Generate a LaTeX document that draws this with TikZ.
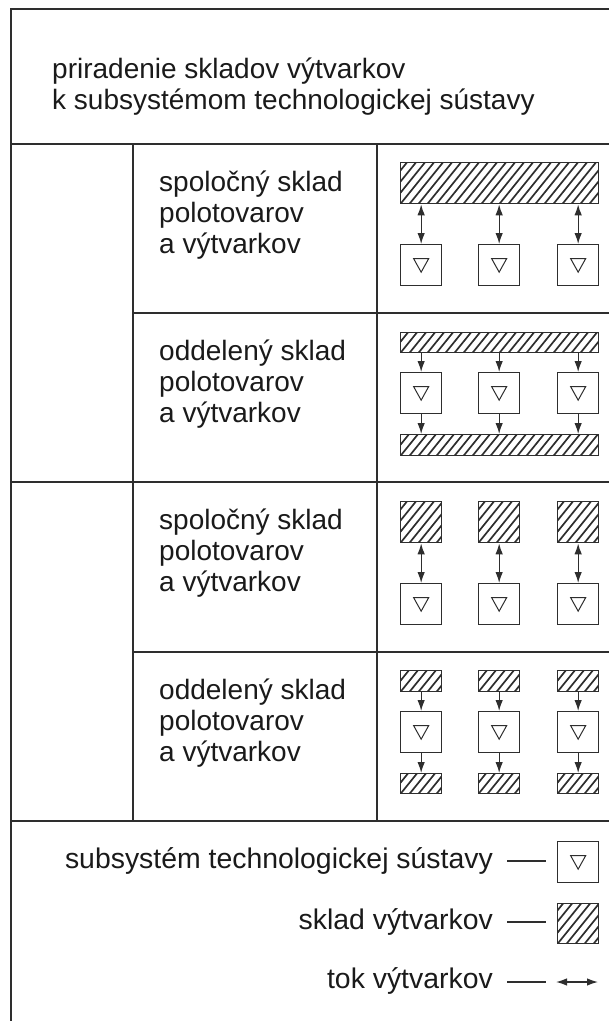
\documentclass[tikz,border=0pt]{standalone}
\usepackage{fontspec}
\setmainfont{Liberation Sans}
\usetikzlibrary{arrows.meta}
\definecolor{ln}{HTML}{2E2E2E}
\definecolor{tx}{HTML}{1A1A1A}
\begin{document}
\begin{tikzpicture}[x=1pt,y=-1pt,
  frame/.style={draw=ln, line width=1.6pt},
  unit/.style={draw=ln, line width=1.3pt, minimum width=41pt, minimum height=41pt, inner sep=0pt, anchor=north west,
    path picture={\draw[line width=1pt, draw=ln] ([shift={(-7.5pt,6.5pt)}]path picture bounding box.center) -- ++(15pt,0pt) -- ++(-7.5pt,-13.5pt) -- cycle;}},
  store/.style={draw=ln, line width=1.3pt, inner sep=0pt, anchor=north west, minimum width=41pt,
    path picture={\foreach \k in {-8,...,26}{\draw[line width=1.7pt, draw=ln] ([xshift=\k*9pt]path picture bounding box.south west) -- ++(42pt,52pt);}}},
  flow/.style={draw=ln, line width=1.3pt, -{Latex[length=11pt,width=7.5pt]}},
  flows/.style={draw=ln, line width=1.3pt, {Latex[length=11pt,width=7.5pt]}-{Latex[length=11pt,width=7.5pt]}},
  txt/.style={font=\fontsize{28}{31}\selectfont, text=tx, inner sep=0pt, align=left, anchor=north west},
  ltxt/.style={font=\fontsize{28.4}{31}\selectfont, text=tx, inner sep=0pt, anchor=base east},
  dash line/.style={draw=ln, line width=1.3pt}]
\useasboundingbox (0,0) rectangle (609,1021);
% table
\draw[frame] (609,9) -- (11,9) -- (11,1021);
\draw[frame] (11,144) -- (609,144);
\draw[frame] (133,313) -- (609,313);
\draw[frame] (11,482) -- (609,482);
\draw[frame] (133,652) -- (609,652);
\draw[frame] (11,821) -- (609,821);
\draw[frame] (133,144) -- (133,821);
\draw[frame] (377,144) -- (377,821);
% header
\node[txt] (head) at (52,54) {\rule{0pt}{24pt}priradenie skladov výtvarkov\\k subsystémom technologickej sústavy};
% row texts
\node[txt] (t1) at (159,167) {\rule{0pt}{24pt}spoločný sklad\\polotovarov\\a výtvarkov};
\node[txt] (t2) at (159,336) {\rule{0pt}{24pt}oddelený sklad\\polotovarov\\a výtvarkov};
\node[txt] (t3) at (159,505) {\rule{0pt}{24pt}spoločný sklad\\polotovarov\\a výtvarkov};
\node[txt] (t4) at (159,675) {\rule{0pt}{24pt}oddelený sklad\\polotovarov\\a výtvarkov};
% row 1
\node[store, minimum width=198pt, minimum height=41pt] (b1) at (400,162) {};
\node[unit] (u11) at (400,244) {};
\node[unit] (u12) at (478,244) {};
\node[unit] (u13) at (557,244) {};
\foreach \u in {u11,u12,u13}{\draw[flows] (\u.north |- b1.south) -- (\u.north);}
% row 2
\node[store, minimum width=198pt, minimum height=20pt] (b2a) at (400,332) {};
\node[unit] (u21) at (400,372) {};
\node[unit] (u22) at (478,372) {};
\node[unit] (u23) at (557,372) {};
\node[store, minimum width=198pt, minimum height=21pt] (b2b) at (400,434) {};
\foreach \u in {u21,u22,u23}{
  \draw[flow] (\u.north |- b2a.south) -- (\u.north);
  \draw[flow] (\u.south) -- (\u.south |- b2b.north);}
% row 3
\node[store, minimum height=41pt] (s31) at (400,501) {};
\node[store, minimum height=41pt] (s32) at (478,501) {};
\node[store, minimum height=41pt] (s33) at (557,501) {};
\node[unit] (u31) at (400,583) {};
\node[unit] (u32) at (478,583) {};
\node[unit] (u33) at (557,583) {};
\foreach \i in {1,2,3}{\draw[flows] (s3\i.south) -- (u3\i.north);}
% row 4
\node[store, minimum height=21pt] (s41) at (400,670) {};
\node[store, minimum height=21pt] (s42) at (478,670) {};
\node[store, minimum height=21pt] (s43) at (557,670) {};
\node[unit] (u41) at (400,711) {};
\node[unit] (u42) at (478,711) {};
\node[unit] (u43) at (557,711) {};
\node[store, minimum height=20pt] (r41) at (400,773) {};
\node[store, minimum height=20pt] (r42) at (478,773) {};
\node[store, minimum height=20pt] (r43) at (557,773) {};
\foreach \i in {1,2,3}{
  \draw[flow] (s4\i.south) -- (u4\i.north);
  \draw[flow] (u4\i.south) -- (r4\i.north);}
% legend
\node[ltxt] (l1) at (493,868) {subsystém technologickej sústavy};
\node[ltxt] (l2) at (493,929) {sklad výtvarkov};
\node[ltxt] (l3) at (493,988) {tok výtvarkov};
\node[unit] (lu) at (557,841) {};
\node[store, minimum height=40pt] (ls) at (557,903) {};
\coordinate (d1a) at (507,861); \coordinate (d1b) at (546,861);
\coordinate (d2a) at (507,922); \coordinate (d2b) at (546,922);
\coordinate (d3a) at (507,982); \coordinate (d3b) at (546,982);
\coordinate (fa) at (556,982); \coordinate (fb) at (598,982);
\draw[dash line] (d1a) -- (d1b);
\draw[dash line] (d2a) -- (d2b);
\draw[dash line] (d3a) -- (d3b);
\draw[flows] (fa) -- (fb);
\end{tikzpicture}
\end{document}
